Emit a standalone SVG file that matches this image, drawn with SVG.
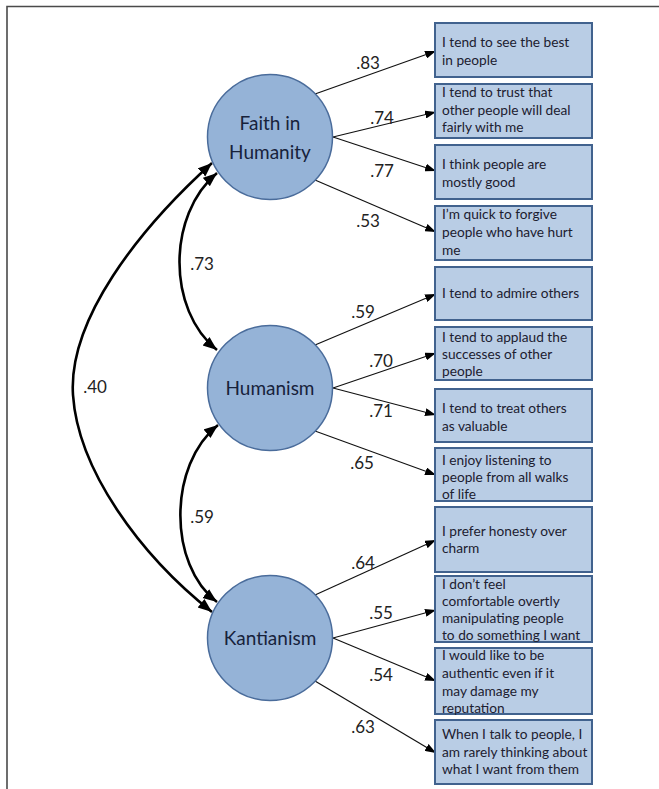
<svg xmlns="http://www.w3.org/2000/svg" width="659" height="789" viewBox="0 0 659 789">
<style>
.frame{fill:none;stroke:#4a4a4a;stroke-width:1.6}
.lat{fill:#95b3d7;stroke:#4a6c9b;stroke-width:1.5}
.lt{font-family:Lato,"Liberation Sans",sans-serif;font-size:19px;fill:#17223b;text-anchor:middle}
.box{fill:#b9cde5;stroke:#41628e;stroke-width:2}
.bt{font-family:Lato,"Liberation Sans",sans-serif;font-size:13.7px;fill:#1c2030}
.ln{fill:none;stroke:#111;stroke-width:1.2}
.cv{fill:none;stroke:#000;stroke-width:2.6}
.lab{font-family:Lato,"Liberation Sans",sans-serif;font-size:17px;fill:#222;text-anchor:middle}
</style>
<defs>
<marker id="ah" markerUnits="userSpaceOnUse" markerWidth="12" markerHeight="8" refX="11" refY="4" orient="auto"><path d="M0,0 L11,4 L0,8 z" fill="#000"/></marker>
<marker id="ah2" markerUnits="userSpaceOnUse" markerWidth="15" markerHeight="12" refX="14" refY="5.5" orient="auto-start-reverse"><path d="M0,0 L14,5.5 L0,11 z" fill="#000"/></marker>
</defs>
<rect width="659" height="789" fill="#fff"/>
<path class="frame" d="M7,789 V6.5 H659"/>

<g id="connectors">
<line class="ln" x1="315" y1="94" x2="436" y2="51" marker-end="url(#ah)"/>
<line class="ln" x1="333" y1="137" x2="436" y2="112" marker-end="url(#ah)"/>
<line class="ln" x1="333" y1="137" x2="436" y2="171" marker-end="url(#ah)"/>
<line class="ln" x1="315" y1="180" x2="436" y2="232" marker-end="url(#ah)"/>
<line class="ln" x1="315" y1="345" x2="436" y2="294" marker-end="url(#ah)"/>
<line class="ln" x1="333" y1="388" x2="436" y2="353" marker-end="url(#ah)"/>
<line class="ln" x1="333" y1="388" x2="436" y2="415" marker-end="url(#ah)"/>
<line class="ln" x1="315" y1="431" x2="436" y2="475" marker-end="url(#ah)"/>
<line class="ln" x1="315" y1="595" x2="436" y2="540" marker-end="url(#ah)"/>
<line class="ln" x1="333" y1="638" x2="436" y2="610" marker-end="url(#ah)"/>
<line class="ln" x1="333" y1="638" x2="436" y2="681" marker-end="url(#ah)"/>
<line class="ln" x1="315" y1="681" x2="436" y2="753" marker-end="url(#ah)"/>
<path class="cv" d="M217,173 C167,215 167,310 217,350" marker-start="url(#ah2)" marker-end="url(#ah2)"/>
<path class="cv" d="M218,425 C168,465 168,565 217,602" marker-start="url(#ah2)" marker-end="url(#ah2)"/>
<path class="cv" d="M212,163 C138,230 68,320 73,395 C78,470 140,555 212,612" marker-start="url(#ah2)" marker-end="url(#ah2)"/>
<text class="lab" x="368" y="69">.83</text>
<text class="lab" x="382" y="124">.74</text>
<text class="lab" x="382" y="177">.77</text>
<text class="lab" x="368" y="227">.53</text>
<text class="lab" x="363" y="318">.59</text>
<text class="lab" x="381" y="367">.70</text>
<text class="lab" x="381" y="417">.71</text>
<text class="lab" x="362" y="469">.65</text>
<text class="lab" x="363" y="569">.64</text>
<text class="lab" x="381" y="619">.55</text>
<text class="lab" x="381" y="681">.54</text>
<text class="lab" x="363" y="733">.63</text>
<text class="lab" x="202" y="270">.73</text>
<text class="lab" x="202" y="523">.59</text>
<text class="lab" x="95" y="393">.40</text>
</g>

<g id="faith">
<circle class="lat" cx="270" cy="137" r="62.5"/>
<text class="lt" x="270" y="130">Faith in</text>
<text class="lt" x="270" y="159">Humanity</text>
</g>
<g id="humanism">
<circle class="lat" cx="270" cy="388" r="62.5"/>
<text class="lt" x="270" y="395">Humanism</text>
</g>
<g id="kantianism">
<circle class="lat" cx="270" cy="638" r="62.5"/>
<text class="lt" x="270" y="645">Kantianism</text>
</g>

<g id="item1"><rect class="box" x="435" y="23" width="157" height="54"/>
<text class="bt"><tspan x="442" y="47">I tend to see the best</tspan><tspan x="442" y="65">in people</tspan></text></g>
<g id="item2"><rect class="box" x="435" y="84" width="157" height="54"/>
<text class="bt"><tspan x="442" y="97">I tend to trust that</tspan><tspan x="442" y="115">other people will deal</tspan><tspan x="442" y="132">fairly with me</tspan></text></g>
<g id="item3"><rect class="box" x="435" y="145" width="157" height="54"/>
<text class="bt"><tspan x="442" y="169">I think people are</tspan><tspan x="442" y="187">mostly good</tspan></text></g>
<g id="item4"><rect class="box" x="435" y="206" width="157" height="54"/>
<text class="bt"><tspan x="442" y="219">I’m quick to forgive</tspan><tspan x="442" y="237">people who have hurt</tspan><tspan x="442" y="255">me</tspan></text></g>
<g id="item5"><rect class="box" x="435" y="267" width="157" height="53"/>
<text class="bt"><tspan x="442" y="298">I tend to admire others</tspan></text></g>
<g id="item6"><rect class="box" x="435" y="327" width="157" height="53"/>
<text class="bt"><tspan x="442" y="342">I tend to applaud the</tspan><tspan x="442" y="359">successes of other</tspan><tspan x="442" y="376">people</tspan></text></g>
<g id="item7"><rect class="box" x="435" y="389" width="157" height="53"/>
<text class="bt"><tspan x="442" y="413">I tend to treat others</tspan><tspan x="442" y="431">as valuable</tspan></text></g>
<g id="item8"><rect class="box" x="435" y="448" width="157" height="53"/>
<text class="bt"><tspan x="442" y="465">I enjoy listening to</tspan><tspan x="442" y="482">people from all walks</tspan><tspan x="442" y="499">of life</tspan></text></g>
<g id="item9"><rect class="box" x="435" y="507" width="157" height="65"/>
<text class="bt"><tspan x="442" y="536">I prefer honesty over</tspan><tspan x="442" y="553">charm</tspan></text></g>
<g id="item10"><rect class="box" x="435" y="576" width="157" height="66"/>
<text class="bt"><tspan x="442" y="589">I don’t feel</tspan><tspan x="442" y="606">comfortable overtly</tspan><tspan x="442" y="623">manipulating people</tspan><tspan x="442" y="640">to do something I want</tspan></text></g>
<g id="item11"><rect class="box" x="435" y="648" width="157" height="66"/>
<text class="bt"><tspan x="442" y="660">I would like to be</tspan><tspan x="442" y="678">authentic even if it</tspan><tspan x="442" y="696">may damage my</tspan><tspan x="442" y="713">reputation</tspan></text></g>
<g id="item12"><rect class="box" x="435" y="720" width="157" height="64"/>
<text class="bt"><tspan x="442" y="739">When I talk to people, I</tspan><tspan x="442" y="757">am rarely thinking about</tspan><tspan x="442" y="774">what I want from them</tspan></text></g>
</svg>
